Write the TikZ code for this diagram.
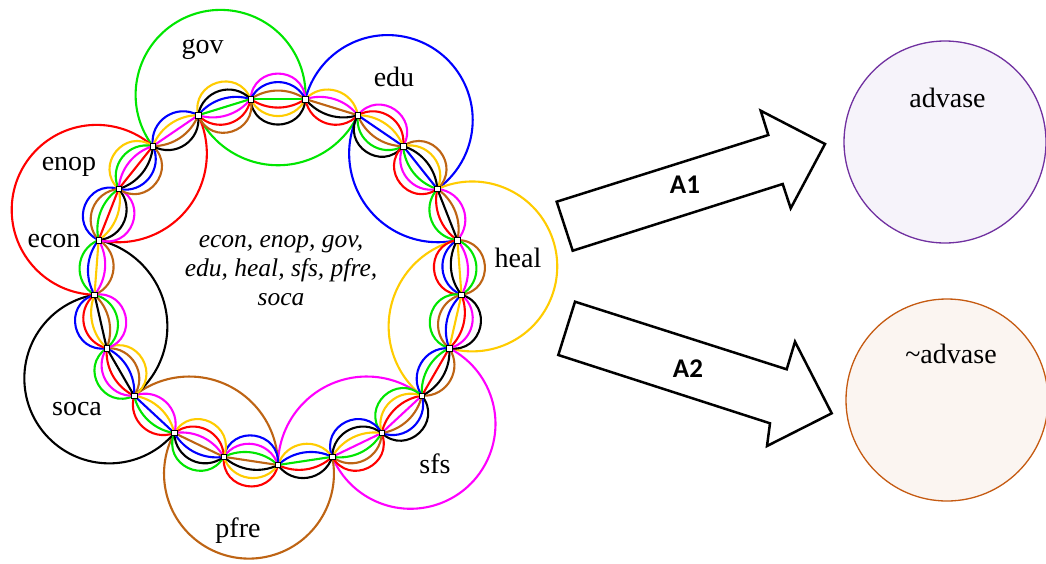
\documentclass[tikz,border=0pt]{standalone}
\usepackage{fontspec}
\setmainfont{Liberation Serif}
\newfontfamily\arrfont{Carlito}
\usetikzlibrary{calc}
\definecolor{cG}{RGB}{0,230,0}
\definecolor{cB}{RGB}{0,0,255}
\definecolor{cY}{RGB}{255,204,0}
\definecolor{cM}{RGB}{255,0,255}
\definecolor{cN}{RGB}{190,100,20}
\definecolor{cK}{RGB}{0,0,0}
\definecolor{cR}{RGB}{255,0,0}
\definecolor{advline}{RGB}{112,48,160}
\definecolor{advfill}{RGB}{246,243,250}
\definecolor{nadvline}{RGB}{197,90,17}
\definecolor{nadvfill}{RGB}{251,245,241}
\newcommand\arrtxt[1]{{\arrfont\bfseries\fontsize{27}{30}\selectfont #1}}
\begin{document}
\begin{tikzpicture}[x=1pt,y=-1pt,
  petal/.style={line width=2.1pt},
  bigarc/.style={line width=2.1pt},
  ringpt/.style={rectangle,draw=black,fill=white,line width=0.6pt,minimum size=5.5pt,inner sep=0pt},
  setlbl/.style={font=\fontsize{28}{30}\selectfont,anchor=base,inner sep=0pt},
  ctrtxt/.style={font=\fontsize{25.5}{28}\selectfont\itshape,anchor=base,inner sep=0pt},
  bigarrow/.style={draw=black,line width=2.5pt,fill=white,line join=miter},
  arrlbl/.style={inner sep=0pt}]
\fill[white] (0,0) rectangle (1046,563);
\useasboundingbox (0,0) rectangle (1046,563);
% ring points
\foreach \k in {1,...,21}
  \coordinate (P\k) at ({278+184*cos(-98.5714+(\k-1)*360/21)},{281+184*sin(-98.5714+(\k-1)*360/21)});
% big loops (outer arc P_a -> P_a+3, inner arc P_a+1 -> P_a+4)
\foreach \a/\cc in {20/cG,2/cB,5/cY,8/cM,11/cN,14/cK,17/cR}{
  \pgfmathsetmacro\pM{-98.5714+(\a+0.5)*360/21}
  \pgfmathtruncatemacro\bI{mod(\a,21)+1}
  \pgfmathsetmacro\pN{\pM+360/21}
  \draw[bigarc,\cc] (P\a) arc[start angle=\pM-110.0, end angle=\pM+110.0, radius=84.95];
  \draw[bigarc,\cc] (P\bI) arc[start angle=\pN-115.88, end angle=\pN-244.12, radius=88.73];
}
% petals between consecutive ring points, listed from outermost to innermost
\foreach \k/\nn/\cols in {
 1/7/{cM,cB,cN,cG,cR,cY,cK},
 2/5/{cY,cM,cN,cK,cR},
 3/7/{cM,cR,cY,cB,cN,cG,cK},
 4/7/{cN,cY,cK,cB,cG,cM,cR},
 5/5/{cM,cN,cK,cR,cG},
 6/7/{cN,cG,cM,cY,cK,cB,cR},
 7/7/{cK,cM,cR,cY,cB,cN,cG},
 8/5/{cN,cK,cR,cG,cB},
 9/7/{cK,cB,cN,cM,cR,cY,cG},
 10/7/{cR,cN,cG,cM,cY,cK,cB},
 11/5/{cK,cR,cG,cB,cY},
 12/7/{cR,cY,cK,cN,cG,cM,cB},
 13/7/{cG,cK,cB,cN,cM,cR,cY},
 14/5/{cR,cG,cB,cY,cM},
 15/7/{cG,cM,cR,cK,cB,cN,cY},
 16/7/{cB,cR,cY,cK,cN,cG,cM},
 17/5/{cG,cB,cY,cM,cN},
 18/7/{cB,cN,cG,cR,cY,cK,cM},
 19/7/{cY,cG,cM,cR,cK,cB,cN},
 20/5/{cB,cY,cM,cN,cK},
 21/7/{cY,cK,cB,cG,cM,cR,cN}}{
  \pgfmathtruncatemacro\kn{mod(\k,21)+1}
  \pgfmathsetmacro\pM{-98.5714+(\k-0.5)*360/21}
  \pgfmathsetmacro\uX{-sin(\pM)}
  \pgfmathsetmacro\uY{cos(\pM)}
  \pgfmathsetmacro\nX{cos(\pM)}
  \pgfmathsetmacro\nY{sin(\pM)}
  \foreach \c [count=\i] in \cols {
    \pgfmathsetmacro\tT{((\nn+1)/2-\i)*8.5/27.42}
    \pgfmathsetmacro\aA{54.84*(1-(\tT)*(\tT))/3}
    \pgfmathsetmacro\bB{54.84*2*(\tT)/3}
    \pgfmathsetmacro\cAx{(\aA)*(\uX)+(\bB)*(\nX)}
    \pgfmathsetmacro\cAy{(\aA)*(\uY)+(\bB)*(\nY)}
    \pgfmathsetmacro\cBx{-(\aA)*(\uX)+(\bB)*(\nX)}
    \pgfmathsetmacro\cBy{-(\aA)*(\uY)+(\bB)*(\nY)}
    \draw[petal,\c] (P\k) .. controls ($(P\k)+(\cAx,\cAy)$) and ($(P\kn)+(\cBx,\cBy)$) .. (P\kn);
  }
}
% ring point markers
\foreach \k in {1,...,21} \node[ringpt] (Q\k) at (P\k) {};
% set labels
\node[setlbl] (lgov) at (202.5,53) {gov};
\node[setlbl] (ledu) at (394,86) {edu};
\node[setlbl] (lheal) at (518,267) {heal};
\node[setlbl] (lenop) at (69,170) {enop};
\node[setlbl] (lecon) at (54,247) {econ};
\node[setlbl] (lsoca) at (77,415) {soca};
\node[setlbl] (lpfre) at (238,537) {pfre};
\node[setlbl] (lsfs) at (435,473) {sfs};
% centre text
\node[ctrtxt] (c1) at (281,247) {econ, enop, gov,};
\node[ctrtxt] (c2) at (281,276) {edu, heal, sfs, pfre,};
\node[ctrtxt] (c3) at (281,305) {soca};
% arrows
\draw[bigarrow] (556.7,201.7) -- (768.3,135) -- (760.7,110.7) -- (825,144) -- (790.7,208.3) -- (782.7,184) -- (572.7,250.7) -- cycle;
\node[arrlbl] (a1) at (685,185) {\arrtxt{A1}};
\draw[bigarrow] (575,301.7) -- (786.7,369.3) -- (795,341.7) -- (831.7,413.3) -- (767,446) -- (770,423.3) -- (558.3,355) -- cycle;
\node[arrlbl] (a2) at (688,369) {\arrtxt{A2}};
% outcome circles
\node[circle,draw=advline,fill=advfill,line width=1.3pt,minimum size=202pt,inner sep=0pt] (adv) at (945,142) {};
\node[setlbl] (ladv) at (947.5,107) {advase};
\node[circle,draw=nadvline,fill=nadvfill,line width=1.3pt,minimum size=202pt,inner sep=0pt] (nadv) at (947,400) {};
\node[setlbl] (lnadv) at (951,363) {\textasciitilde advase};
\end{tikzpicture}
\end{document}
